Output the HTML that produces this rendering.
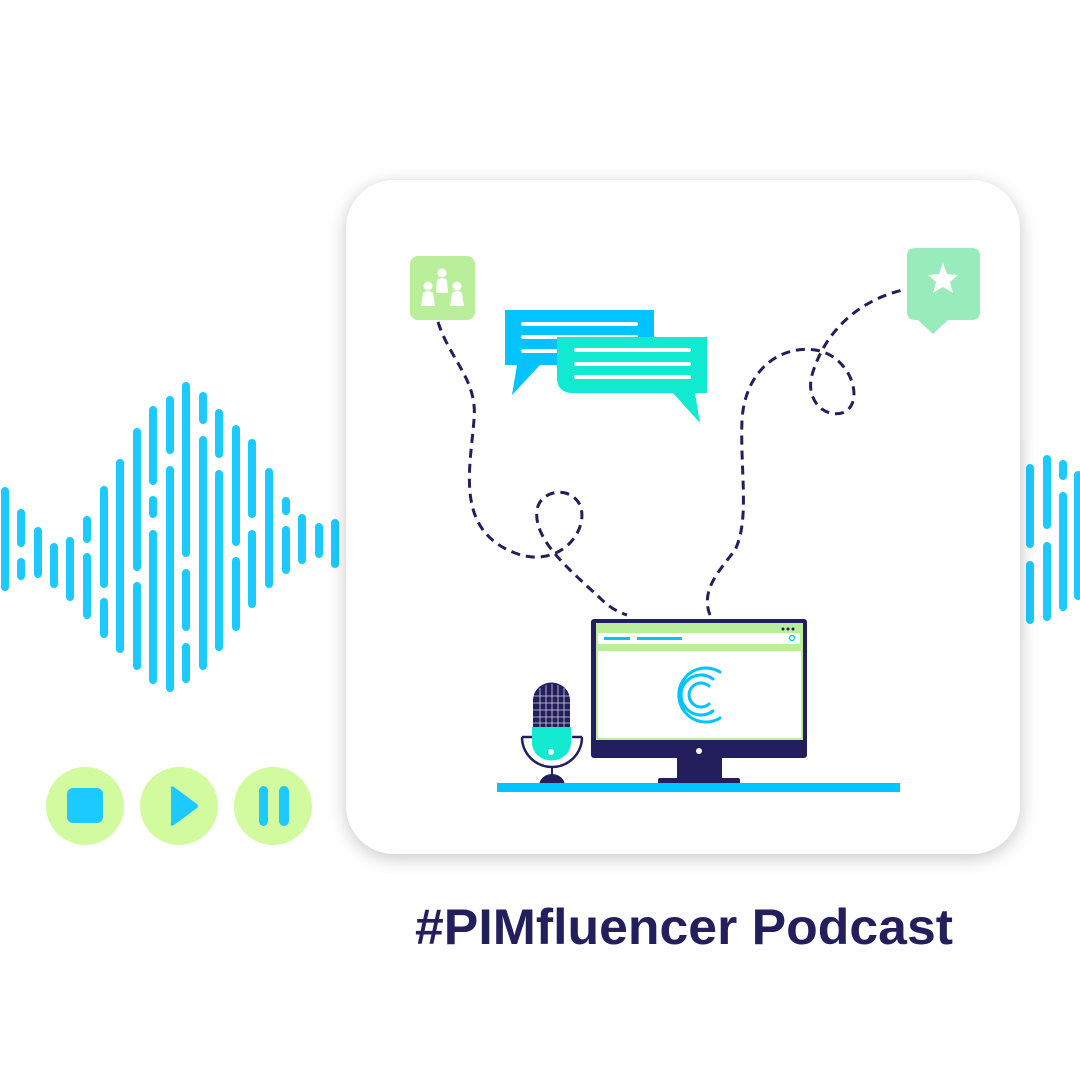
<!DOCTYPE html>
<html><head><meta charset="utf-8"><style>
html,body{margin:0;padding:0;background:#fff;width:1080px;height:1080px;overflow:hidden}
</style></head><body>
<svg width="1080" height="1080" viewBox="0 0 1080 1080" xmlns="http://www.w3.org/2000/svg">
<defs>
<filter id="sh" x="-10%" y="-10%" width="120%" height="120%"><feGaussianBlur stdDeviation="9"/></filter>
<linearGradient id="rg" x1="0" x2="1"><stop offset="0" stop-color="#ddd"/><stop offset="1" stop-color="#fff" stop-opacity="0"/></linearGradient>
</defs>
<rect x="1010" y="440" width="22" height="200" fill="url(#rg)" opacity="0.6"/>
<!-- left waveform -->
<g stroke="#1ccaff" stroke-width="8" stroke-linecap="round" fill="none">
<path d="M5 491V587M21 513V543M21 562V576M38 531V574M54 547V584M70 541V597M87 520V539M87 557V615M104 490V584M104 602V634M120 463V649M137 432V567M137 586V666M153 410V481M153 500V514M153 534V680M170 400V450M170 470V688M186 386V553M186 573V627M186 647V679M203 396V420M203 440V666M219 413V454M219 474V647M236 429V542M236 561V627M252 443V514M252 534V604M269 472V584M286 501V511M286 530V570M302 518V560M319 527V554M335 523V564"/>
<path d="M1030 468V544M1030 565V620M1047 459V525M1047 546V617M1063 464V476M1063 496V607M1078 475V596"/>
</g>
<!-- card -->
<rect x="346" y="184" width="674" height="674" rx="48" fill="#000" opacity="0.22" filter="url(#sh)"/>
<rect x="346" y="180" width="674" height="674" rx="48" fill="#fff"/>
<!-- dashed paths -->
<g stroke="#221f5c" stroke-width="3" stroke-dasharray="9,6" fill="none">
<path d="M438 322 C450 360 478 380 474 420 C470 470 455 530 515 553 C560 570 590 530 580 505 C570 485 540 490 537 510 C533 540 570 570 600 598 C610 608 618 612 627 615"/>
<path d="M710 615 C700 590 720 570 735 550 C750 520 740 470 742 420 C745 370 780 345 815 350 C850 355 865 400 845 412 C825 420 805 400 812 375 C825 330 860 300 903 290"/>
</g>
<!-- people icon -->
<rect x="410" y="256" width="65" height="64" rx="8" fill="#b9ef9a"/>
<g fill="#fff">
<circle cx="442" cy="273" r="4.5"/><path d="M436 293 L437 280 Q442 276 447 280 L448 293Z"/>
<circle cx="428" cy="286" r="4.5"/><path d="M421 306 L423 293 Q428 289 433 293 L435 306Z"/>
<circle cx="457" cy="286" r="4.5"/><path d="M450 306 L452 293 Q457 289 462 293 L464 306Z"/>
</g>
<!-- star bubble -->
<path d="M915 248 H972 Q980 248 980 256 V312 Q980 320 972 320 H948 L933 334 L918 320 H915 Q907 320 907 312 V256 Q907 248 915 248Z" fill="#98ecbc"/>
<path d="M943 263 L947 274 L958 275 L950 282 L953 293 L943 287 L933 293 L936 282 L928 275 L939 274Z" fill="#fff"/>
<!-- chat bubbles -->
<path d="M505 310 H654 V365 H540 L512 395 L517 365 H505Z" fill="#00c3ff"/>
<g stroke="#fff" stroke-width="4" stroke-linecap="round"><path d="M523 324H636M523 337H636M523 351H560"/></g>
<path d="M557 337 H707 V393 H673 L700 423 L695 393 H573 Q557 393 557 377Z" fill="#11e9d1"/>
<g stroke="#fff" stroke-width="4" stroke-linecap="round"><path d="M576 350H689M576 364H689M576 377H689"/></g>
<!-- monitor -->
<rect x="591" y="619" width="216" height="139" rx="3" fill="#221f5c"/>
<rect x="596" y="623" width="207" height="117" fill="#b9ef9a"/>
<rect x="598" y="651" width="203" height="87" fill="#fff"/>
<rect x="598" y="633" width="202" height="11" fill="#fff"/>
<rect x="604" y="637" width="26" height="3" fill="#00c3ff"/>
<rect x="637" y="637" width="45" height="3" fill="#00c3ff"/>
<circle cx="792" cy="638" r="2.5" fill="none" stroke="#00c3ff" stroke-width="1.2"/>
<g fill="#221f5c"><circle cx="783" cy="629" r="1.5"/><circle cx="788" cy="629" r="1.5"/><circle cx="793" cy="629" r="1.5"/></g>
<circle cx="699" cy="751" r="3" fill="#fff"/>
<rect x="677" y="757" width="45" height="24" fill="#221f5c"/>
<rect x="658" y="778" width="82" height="6" rx="2" fill="#221f5c"/>
<g fill="none" stroke="#00c3ff" stroke-width="3" stroke-linecap="round">
<path d="M720 672 A27 27 0 1 0 720 718"/>
<path d="M713 679 A20 20 0 1 0 713 711"/>
<path d="M709 686 A12 12 0 1 0 709 704"/>
</g>
<!-- mic -->
<path d="M522 737 A30 30 0 0 0 582 737" fill="none" stroke="#221f5c" stroke-width="2.5"/>
<path d="M522 737 H532 M572 737 H582" stroke="#221f5c" stroke-width="2.5"/>
<line x1="552" y1="767" x2="552" y2="775" stroke="#221f5c" stroke-width="2"/>
<path d="M539 786 A13 12 0 0 1 565 786Z" fill="#221f5c"/>
<path d="M533 727 V700 A18 17 0 0 1 570 700 V727Z" fill="#221f5c"/>
<g stroke="#fff" stroke-width="0.8" opacity="0.8"><path d="M540 688V727M546 685V727M552 684V727M558 685V727M564 688V727M533 696H570M533 703H570M533 710H570M533 717H570M533 723H570"/></g>
<path d="M532 727 H571 V743 A19 17 0 0 1 532 743Z" fill="#11e9d1"/>
<circle cx="551" cy="752" r="3" fill="#fff"/>
<!-- desk -->
<rect x="497" y="783" width="403" height="9" fill="#00c3ff"/>
<!-- buttons -->
<g fill="#d2fba0"><circle cx="85" cy="806" r="39"/><circle cx="179" cy="806" r="39"/><circle cx="273" cy="806" r="39"/></g>
<rect x="67" y="788" width="36" height="35" rx="6" fill="#1ccaff"/>
<path d="M171 789 Q170 785 174 787 L197 804 Q199 806 197 808 L174 825 Q170 827 171 823Z" fill="#1ccaff"/>
<rect x="259" y="786" width="9" height="40" rx="4.5" fill="#1ccaff"/>
<rect x="279" y="786" width="10" height="40" rx="5" fill="#1ccaff"/>
<!-- title -->
<text x="415" y="944" font-family="Liberation Sans, sans-serif" font-weight="bold" font-size="50" fill="#221f5c" textLength="538" lengthAdjust="spacingAndGlyphs">#PIMfluencer Podcast</text>
</svg>
</body></html>
